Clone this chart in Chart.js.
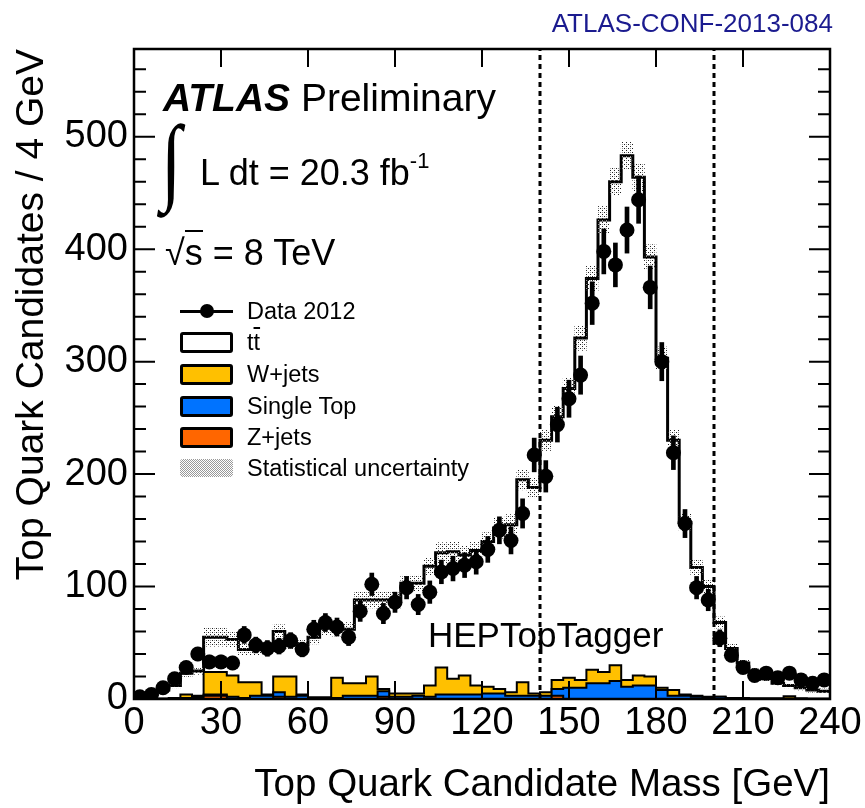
<!DOCTYPE html>
<html>
<head>
<meta charset="utf-8">
<script src="https://cdn.jsdelivr.net/npm/chart.js@4.4.1/dist/chart.umd.min.js"></script>
<style>
  body { margin: 0; background: #fff; }
  #wrap { position: relative; width: 865px; height: 808px; font-family: 'Liberation Sans', Arial, sans-serif; }
  .lbl { position: absolute; line-height: 1; white-space: nowrap; color: #000; }
  .row { position: absolute; left: 180px; height: 24px; display: flex; align-items: center; font-size: 23.5px; line-height: 24px; white-space: nowrap; }
  .box { width: 53px; height: 21px; box-sizing: border-box; border: 3px solid #000; border-radius: 3px; margin-right: 14px; }
  .hatch { border: none; background-image: repeating-conic-gradient(#999 0 25%, #fff 0 50%); background-size: 2px 2px; height: 18px; }
  .datasym { position: relative; width: 53px; height: 20px; margin-right: 14px; }
  .datasym::before { content: ''; position: absolute; left: 0; right: 0; top: 9px; height: 3px; background: #000; }
  .datasym::after { content: ''; position: absolute; left: 20px; top: 3px; width: 14px; height: 14px; border-radius: 50%; background: #000; }
</style>
</head>
<body>
<div id="wrap">
  <canvas id="massChart" width="865" height="808"></canvas>

  <div class="lbl" style="right: 32px; top: 10px; font-size: 26px; color: #1b1b8f;">ATLAS-CONF-2013-084</div>
  <div class="lbl" style="left: 163px; top: 78px; font-size: 39px;"><b><i>ATLAS</i></b> Preliminary</div>
  <div class="lbl" style="left: 161px; top: 112px; font-size: 100px; font-family: 'Liberation Serif', serif; transform: scale(0.75, 0.96); transform-origin: left top;">∫</div>
  <div class="lbl" style="left: 200px; top: 155px; font-size: 36px;">L dt = 20.3 fb<span style="font-size: 22px; position: relative; top: -17px;">-1</span></div>
  <div class="lbl" style="left: 165px; top: 235px; font-size: 36px;">√<span style="border-top: 2px solid #000;">s</span> = 8 TeV</div>
  <div class="lbl" style="left: 428px; top: 617px; font-size: 35px;">HEPTopTagger</div>

  <div class="row" style="top: 299px;"><div class="datasym"></div>Data 2012</div>
  <div class="row" style="top: 330px;"><div class="box" style="background: #fff;"></div>t<span style="text-decoration: overline;">t</span></div>
  <div class="row" style="top: 362px;"><div class="box" style="background: #FFC000;"></div>W+jets</div>
  <div class="row" style="top: 394px;"><div class="box" style="background: #0073FF;"></div>Single Top</div>
  <div class="row" style="top: 425px;"><div class="box" style="background: #FF6600;"></div>Z+jets</div>
  <div class="row" style="top: 456px;"><div class="box hatch"></div>Statistical uncertainty</div>
</div>

<script>
// 60 bins of 4 GeV, 0-240 GeV
const binWidth = 4;

const dataCounts = [2, 4, 10, 18, 28, 40, 33, 33, 32, 57,
  48, 45, 47, 52, 44, 62, 68, 64, 55, 78,
  102, 76, 86, 99, 84, 95, 113, 116, 119, 122,
  133, 150, 141, 165, 217, 198, 244, 267, 288, 352,
  398, 386, 417, 444, 366, 300, 219, 156, 99, 88,
  54, 39, 28, 21, 23, 19, 23, 17, 14, 17];

const dataErrors = [1.5, 2, 3, 4, 5, 6, 6, 6, 6, 7.5,
  7, 7, 7, 7, 6.5, 8, 8, 8, 7.5, 9,
  10, 9, 9, 10, 9, 10, 10.5, 11, 11, 11,
  11.5, 12, 12, 13, 15, 14, 15.5, 16.5, 17, 19,
  20, 19.5, 20.5, 21, 19, 17, 15, 12.5, 10, 9.5,
  7.5, 6, 5.5, 4.5, 5, 4.5, 5, 4, 3.5, 4];

// total prediction (ttbar + backgrounds)
const mcTotal = [2, 4, 8, 12, 23, 25, 55, 55, 53, 44,
  44, 45, 60, 50, 48, 55, 63, 62, 62, 88,
  88, 88, 88, 103, 103, 118, 130, 131, 128, 132,
  140, 152, 155, 195, 188, 230, 251, 276, 321, 374,
  426, 460, 483, 464, 393, 303, 230, 157, 117, 100,
  68, 45, 32, 24, 18, 14, 12, 10, 8, 7];

const mcStatUnc = [1, 1, 2, 2, 3, 3, 8, 8, 7, 5,
  5, 5, 6, 5, 5, 6, 6, 6, 6, 7,
  7, 7, 7, 7, 7, 8, 9, 9, 8, 8,
  8, 9, 9, 9, 9, 9, 10, 10, 11, 11,
  12, 12, 12, 12, 11, 10, 9, 8, 7, 6,
  5, 4, 3, 3, 2, 2, 2, 2, 2, 2];

const zJets = [0, 0, 0, 0, 0, 1, 3, 3, 0, 0,
  0, 0, 2, 0, 0, 0, 0, 0, 0, 0,
  0, 2, 0, 0, 0, 0, 0, 0, 0, 0,
  0, 0, 0, 0, 0, 0, 3, 0, 0, 0,
  0, 0, 0, 0, 0, 0, 0, 0, 0, 0,
  0, 0, 0, 0, 0, 0, 0, 0, 0, 0];

const singleTop = [0, 0, 0, 0.5, 1, 1, 1, 1, 2, 1,
  3, 3, 4, 2, 3, 1, 1, 1, 3, 3,
  3, 5, 2, 2, 3, 2, 4, 4, 4, 4,
  5, 5, 3, 3, 3, 3, 6, 10, 10, 14,
  14, 16, 11, 12, 12, 8, 3, 3, 2, 1,
  2, 1, 1, 0.5, 0.5, 0.5, 0.5, 0.5, 0.3, 0.3];

const wJets = [0, 0, 0.5, 0.5, 3, 1, 20, 20, 19, 14,
  12, 1, 14, 18, 1, 0.5, 0.5, 18, 11, 11,
  17, 2, 3, 3, 2, 10, 24, 14, 17, 8,
  6, 4, 3, 12, 2, 3, 8, 9, 7, 12,
  10, 14, 6, 9, 8, 2, 5, 1, 1, 1,
  0, 0, 0, 0, 0, 0, 2, 0, 0, 0];

const cutValues = [140, 200];
const yMax = 578;

const font = "'Liberation Sans', Arial, sans-serif";
const centers = dataCounts.map((_, i) => i * binWidth + binWidth / 2);
// histogram outline: one point per low bin edge, plus the last upper edge
const stepData = (arr) => arr.map((v, i) => ({ x: i * binWidth, y: v }))
  .concat([{ x: arr.length * binWidth, y: arr[arr.length - 1] }]);

// sparse dots for the statistical uncertainty band
function makeHatch() {
  const c = document.createElement('canvas');
  c.width = 4; c.height = 4;
  const g = c.getContext('2d');
  g.fillStyle = '#222';
  g.fillRect(0, 0, 1, 1);
  g.fillRect(2, 2, 1, 1);
  g.fillStyle = '#999';
  g.fillRect(2, 0, 1, 1);
  return g.createPattern(c, 'repeat');
}

const bgStep = {
  type: 'line',
  stack: 'bg',
  stepped: 'before',
  borderColor: '#000',
  borderWidth: 2,
  pointRadius: 0,
  order: 5
};

const frameTicks = {
  id: 'frameTicks',
  afterDatasetsDraw(chart) {
    const { ctx, chartArea: a, scales: { x, y } } = chart;
    ctx.save();
    ctx.strokeStyle = '#000';
    ctx.lineWidth = 2;
    ctx.beginPath();
    for (let v = 0; v <= yMax; v += 20) {
      const py = y.getPixelForValue(v);
      const len = v % 100 === 0 ? 21 : 12;
      ctx.moveTo(a.left, py); ctx.lineTo(a.left + len, py);
      ctx.moveTo(a.right, py); ctx.lineTo(a.right - len, py);
    }
    x.ticks.forEach(t => {
      const px = x.getPixelForValue(t.value);
      ctx.moveTo(px, a.bottom); ctx.lineTo(px, a.bottom - 18);
      ctx.moveTo(px, a.top); ctx.lineTo(px, a.top + 18);
    });
    ctx.stroke();
    ctx.lineWidth = 2.5;
    ctx.strokeRect(a.left, a.top, a.right - a.left, a.bottom - a.top);
    ctx.restore();
  }
};

const datasets = [
  {
    type: 'line',
    label: 'ttbar',
    stack: 'mc',
    data: stepData(mcTotal),
    stepped: 'before',
    borderColor: '#000',
    borderWidth: 3,
    pointRadius: 0,
    fill: 'origin',
    backgroundColor: '#fff',
    order: 6
  },
  Object.assign({ label: 'Z+jets', data: stepData(zJets), fill: 'origin', backgroundColor: '#FF6600' }, bgStep),
  Object.assign({ label: 'Single Top', data: stepData(singleTop), fill: '-1', backgroundColor: '#0073FF' }, bgStep),
  Object.assign({ label: 'W+jets', data: stepData(wJets), fill: '-1', backgroundColor: '#FFC000' }, bgStep),
  {
    type: 'bar',
    label: 'Statistical uncertainty',
    stack: 'unc',
    grouped: false,
    barPercentage: 1,
    categoryPercentage: 1,
    data: mcTotal.map((v, i) => ({ x: centers[i], y: [v - mcStatUnc[i], v + mcStatUnc[i]] })),
    backgroundColor: makeHatch(),
    borderWidth: 0,
    order: 4
  },
  ...cutValues.map((c, k) => ({
    type: 'line',
    stack: 'cut' + k,
    data: [{ x: c, y: 0 }, { x: c, y: yMax }],
    borderColor: '#000',
    borderWidth: 3,
    borderDash: [5, 4],
    pointRadius: 0,
    fill: false,
    order: 3
  })),
  {
    type: 'bar',
    label: 'err',
    stack: 'err',
    grouped: false,
    barThickness: 4,
    data: dataCounts.map((v, i) => ({ x: centers[i], y: [v - dataErrors[i], v + dataErrors[i]] })),
    backgroundColor: '#000',
    borderWidth: 0,
    order: 2
  },
  {
    type: 'line',
    label: 'Data 2012',
    stack: 'data',
    data: dataCounts.map((v, i) => ({ x: centers[i], y: v })),
    showLine: false,
    pointRadius: 7.5,
    pointBackgroundColor: '#000',
    pointBorderWidth: 0,
    order: 1
  }
];

new Chart(document.getElementById('massChart'), {
  type: 'bar',
  data: { datasets },
  plugins: [frameTicks],
  options: {
    responsive: false,
    animation: false,
    events: [],
    layout: { padding: { top: 49, right: 35, left: 0, bottom: 0 } },
    plugins: {
      legend: { display: false },
      tooltip: { enabled: false }
    },
    scales: {
      x: {
        type: 'linear',
        min: 0,
        max: 240,
        offset: false,
        grid: { display: false, drawTicks: false },
        border: { display: false },
        ticks: { stepSize: 30, color: '#000', padding: 2, maxRotation: 0, autoSkip: false, font: { family: font, size: 38 } },
        title: { display: true, text: 'Top Quark Candidate Mass [GeV]', align: 'end', color: '#000', padding: 0, font: { family: font, size: 38.5 } },
        afterFit: (s) => { s.height = 109; }
      },
      y: {
        min: 0,
        max: yMax,
        stacked: true,
        grid: { display: false, drawTicks: false },
        border: { display: false },
        ticks: { stepSize: 100, includeBounds: false, color: '#000', padding: 6, font: { family: font, size: 38 } },
        title: { display: true, text: 'Top Quark Candidates / 4 GeV', align: 'end', color: '#000', padding: { top: 9, bottom: 0 }, font: { family: font, size: 39 } },
        afterFit: (s) => { s.width = 134; }
      }
    }
  }
});
</script>
</body>
</html>
